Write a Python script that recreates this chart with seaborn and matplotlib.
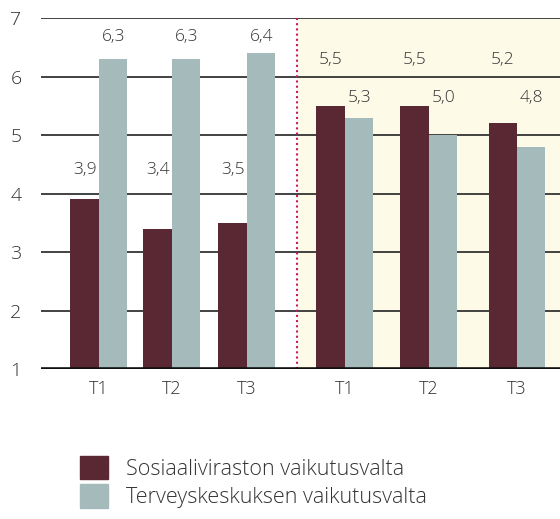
import seaborn as sns
import matplotlib.pyplot as plt
import matplotlib.patches as mpatches
import pandas as pd

# Data
groups = ['A-T1', 'A-T2', 'A-T3', 'B-T1', 'B-T2', 'B-T3']
tick_labels = ['T1', 'T2', 'T3', 'T1', 'T2', 'T3']
series_names = ['Sosiaaliviraston vaikutusvalta', 'Terveyskeskuksen vaikutusvalta']
sosiaali = [3.9, 3.4, 3.5, 5.5, 5.5, 5.2]
terveys = [6.3, 6.3, 6.4, 5.3, 5.0, 4.8]

# Layout: bar pair centres on the x axis (uneven spacing, as in the original)
slot_x = [0.99, 1.72, 2.47, 3.45, 4.29, 5.17]
divider_x = 2.97

colors = ['#5a2832', '#a5bbbb']

df = pd.DataFrame({
    'x': slot_x * 2,
    'sarja': [series_names[0]] * 6 + [series_names[1]] * 6,
    'arvo': sosiaali + terveys,
})

sns.set_style('white')
plt.rcParams['font.family'] = ['Open Sans', 'DejaVu Sans']
txt_color = '#333333'

fig = plt.figure(figsize=(5.6, 5.19), dpi=100)
ax = fig.add_axes([0.073, 0.289, 0.927, 0.676])

ax.axvspan(divider_x, 5.6, color='#fefae8', zorder=0, lw=0)
ax.axvline(divider_x, color='#c8176a', ls=(0, (1, 1.5)), lw=1.5, zorder=1)

for y in range(2, 8):
    ax.axhline(y, color='#222222', lw=1.2, zorder=0.5)

sns.barplot(data=df, x='x', y='arvo', hue='sarja', hue_order=series_names,
            palette=colors, native_scale=True, width=0.78, saturation=1,
            linewidth=0, edgecolor='none', ax=ax, zorder=2, legend=False)

ax.axhline(1, color='#111111', lw=2.6, zorder=3)

# Value labels sit at a common height within each group
label_heights = {'A': (4.4, 6.67), 'B': (6.28, 5.63)}
for idx, cont in enumerate(ax.containers):
    vals = [sosiaali, terveys][idx]
    for bar, g, val in zip(cont, groups, vals):
        yl = label_heights[g[0]][idx]
        ax.text(bar.get_x() + bar.get_width() / 2, yl,
                f'{val:.1f}'.replace('.', ','), ha='center', va='center',
                fontsize=12.5, color=txt_color, fontweight='light')

ax.set_ylim(1, 7)
ax.set_xlim(0.41, 5.60)
ax.set_yticks(range(1, 8))
ax.set_xticks(slot_x)
ax.set_xticklabels(tick_labels)
ax.tick_params(axis='y', length=0, pad=14, labelsize=14, labelcolor=txt_color)
ax.tick_params(axis='x', length=0, pad=8, labelsize=13, labelcolor=txt_color)
for lab in ax.get_xticklabels() + ax.get_yticklabels():
    lab.set_fontweight('light')
ax.set_xlabel('')
ax.set_ylabel('')
for s in ax.spines.values():
    s.set_visible(False)

handles = [mpatches.Patch(color=c, label=n) for c, n in zip(colors, series_names)]
fig.legend(handles=handles, loc='upper left', bbox_to_anchor=(0.143, 0.122),
           frameon=False, prop={'size': 15.5, 'weight': 'light'},
           handlelength=1.3, handleheight=1.3, labelspacing=0.22,
           handletextpad=0.85, labelcolor=txt_color,
           borderpad=0, borderaxespad=0)

plt.savefig('out.png', dpi=100)
